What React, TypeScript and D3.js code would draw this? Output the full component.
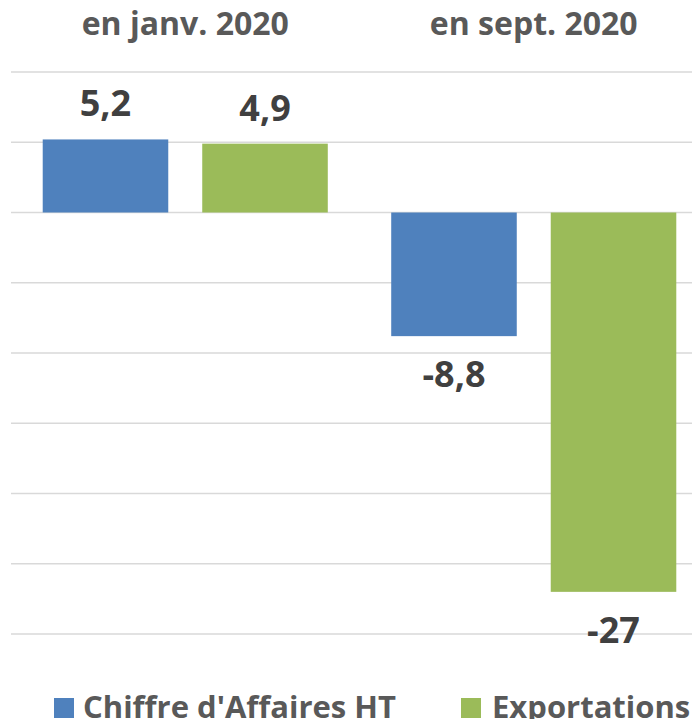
import * as d3 from 'd3';

const categories = ['en janv. 2020', 'en sept. 2020'];
const series = ["Chiffre d'Affaires HT", 'Exportations'];
const caValues = [5.2, -8.8];
const expValues = [4.9, -27];
const valueLabels = [['5,2', '4,9'], ['-8,8', '-27']];
const colors = ['#4f81bd', '#9bbb59'];
const yTicks = [10, 5, 0, -5, -10, -15, -20, -25, -30];

const W = 700;
const H = 727;
const FONT = '"Open Sans", Lato, sans-serif';

export default function App() {
  const x0 = d3.scaleBand<string>().domain(categories).range([11, 708])
    .paddingInner(0.182).paddingOuter(0.091);
  const x1 = d3.scaleBand<string>().domain(series).range([0, x0.bandwidth()])
    .paddingInner(0.213).paddingOuter(0);
  const y = d3.scaleLinear().domain([-30, 10]).range([634, 72]);

  const rows = categories.map((c, i) => ({
    cat: c,
    vals: [caValues[i], expValues[i]],
    labels: valueLabels[i],
  }));

  // legend positions
  const legend = [
    { name: series[0], color: colors[0], sx: 54, tx: 83 },
    { name: series[1], color: colors[1], sx: 461, tx: 492 },
  ];

  return (
    <div style={{ margin: -8 }}>
      <svg width={W} height={H} style={{ display: 'block' }}>
        <rect width={W} height={H} fill="#fff" />
        {yTicks.map(t => (
          <line key={t} x1={11} x2={W} y1={y(t)} y2={y(t)} stroke="#d9d9d9" strokeWidth={1.5} />
        ))}
        {categories.map(c => (
          <text key={c} x={x0(c)! + x0.bandwidth() / 2} y={35} textAnchor="middle"
            fontFamily={FONT} fontWeight={700} fontSize={32} fill="#595959">{c}</text>
        ))}
        {rows.map(r => (
          <g key={r.cat} transform={`translate(${x0(r.cat)},0)`}>
            {r.vals.map((v, j) => {
              const bx = x1(series[j])!;
              const top = y(Math.max(0, v));
              const bot = y(Math.min(0, v));
              const ly = v >= 0 ? top - 23 : bot + 51;
              return (
                <g key={j}>
                  <rect x={bx} y={top} width={x1.bandwidth()} height={bot - top} fill={colors[j]} />
                  <text x={bx + x1.bandwidth() / 2} y={ly} textAnchor="middle"
                    fontFamily={FONT} fontWeight={700} fontSize={36} fill="#404040">{r.labels[j]}</text>
                </g>
              );
            })}
          </g>
        ))}
        {legend.map(l => (
          <g key={l.name}>
            <rect x={l.sx} y={698} width={20} height={20} fill={l.color} />
            <text x={l.tx} y={718} fontFamily={FONT} fontWeight={700} fontSize={31} fill="#595959">{l.name}</text>
          </g>
        ))}
      </svg>
    </div>
  );
}
